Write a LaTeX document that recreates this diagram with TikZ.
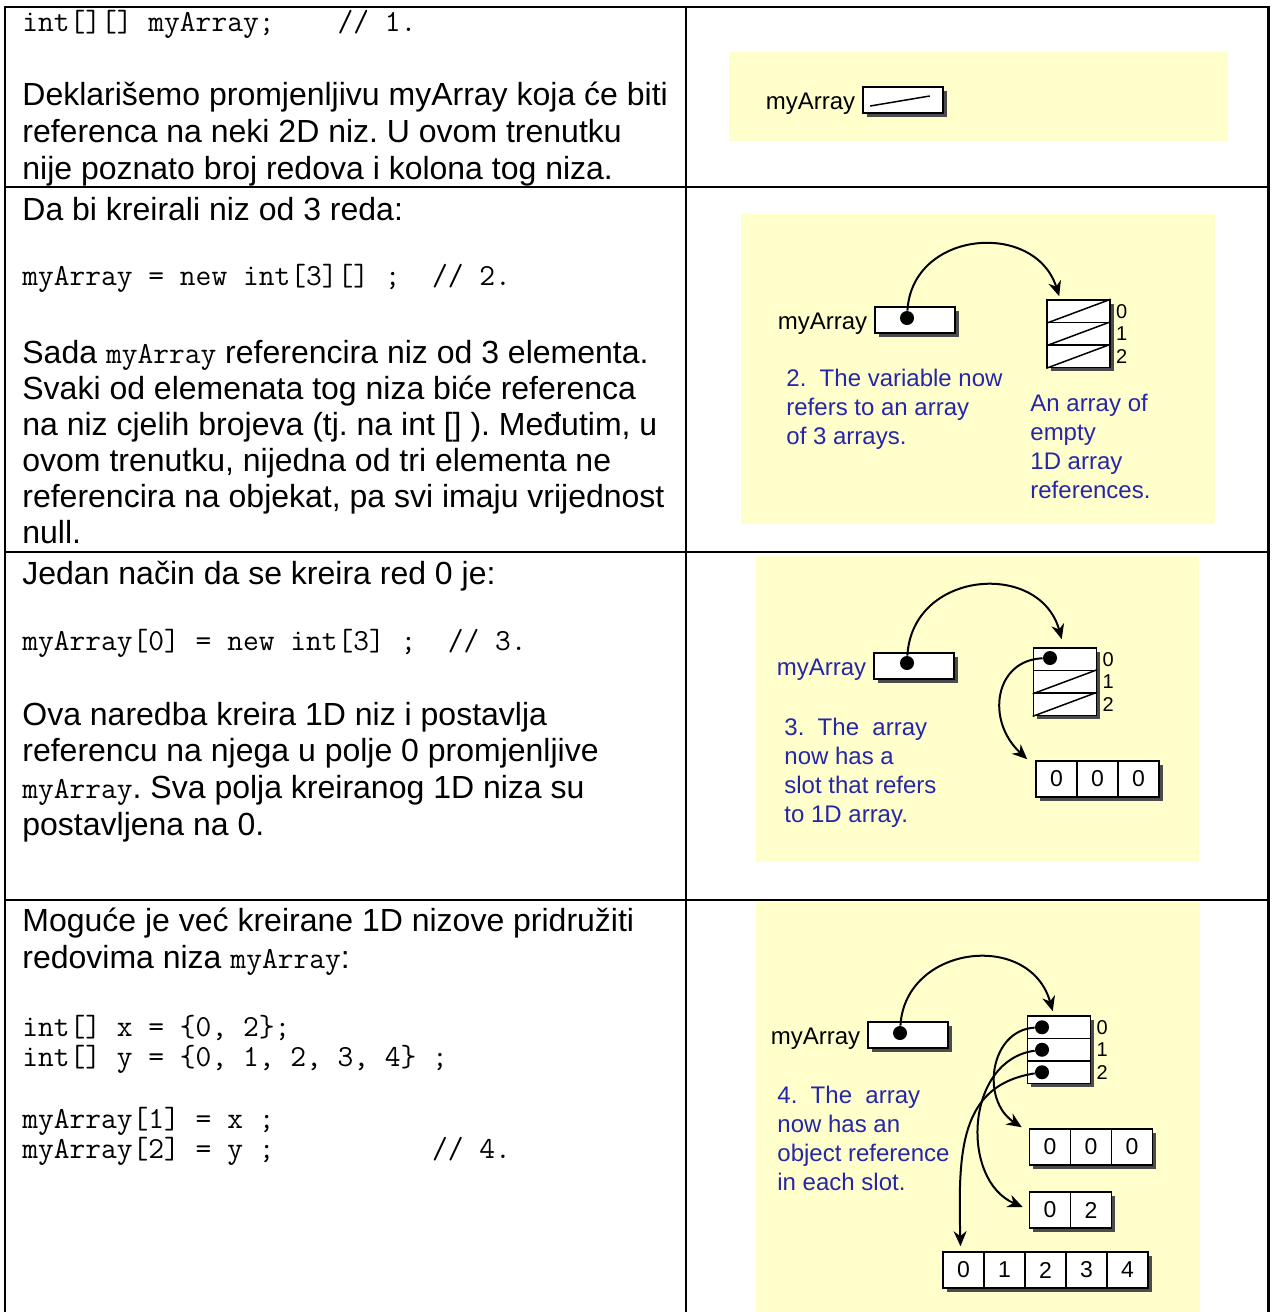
\documentclass[tikz,border=0pt]{standalone}
\usepackage{fontspec}
\setmainfont{Liberation Sans}
\usetikzlibrary{positioning,calc,shadows,arrows.meta}
\definecolor{paper}{RGB}{255,255,204}
\definecolor{inkblue}{RGB}{38,38,170}
\newcommand{\cd}[1]{{\ttfamily\fontsize{15.3}{17}\selectfont #1}}
\frenchspacing

\begin{document}
\begin{tikzpicture}[x=0.5pt,y=-0.5pt,
  rule/.style={line width=1pt},
  txt/.style={anchor=base west,inner sep=0,font=\fontsize{16}{18.5}\selectfont},
  code/.style={anchor=base west,inner sep=0,font=\ttfamily\fontsize{15.3}{17}\selectfont},
  boxshadow/.style={drop shadow={shadow xshift=1.75pt,shadow yshift=-1.75pt,opacity=1,fill=black!70}},
  var/.style={draw,fill=white,line width=.8pt,minimum width=40pt,minimum height=13pt,inner sep=0,boxshadow},
  slot/.style={draw,fill=white,line width=.8pt,minimum width=31.5pt,minimum height=11.25pt,inner sep=0,boxshadow},
  cell/.style={draw,fill=white,line width=.8pt,minimum width=20.5pt,minimum height=18pt,inner sep=0,font=\fontsize{11.5}{12}\selectfont,boxshadow},
  dot/.style={circle,fill=black,inner sep=0,minimum size=7pt},
  idx/.style={inner sep=1pt,label distance=1.5pt,font=\fontsize{10}{10}\selectfont},
  lbl/.style={yshift=-2pt,font=\fontsize{12}{14}\selectfont},
  remark/.style={anchor=north west,inner sep=0,align=left,text=inkblue,font=\fontsize{12}{14.5}\selectfont},
  null/.style={line width=.75pt},
  ptr/.style={line width=1pt,-{Stealth[length=7.5pt,width=6.5pt]}}]
  \useasboundingbox (0,0) rectangle (1271,1312);

  % table
  \draw[rule] (5,1312) -- (5,7) -- (1268,7);
  \draw[line width=1.5pt] (1268,6) -- (1268,1312);
  \draw[rule] (686,7) -- (686,1312);
  \foreach \y in {187,552,900} \draw[rule] (5,\y) -- (1268,\y);

  % row 1
  \node[code] (k1) at (22,31) {int[][] myArray;~~~~// 1.};
  \node[txt] (t11) at (22,105) {Deklarišemo promjenljivu myArray koja će biti};
  \node[txt] (t12) at (22,142) {referenca na neki 2D niz. U ovom trenutku};
  \node[txt] (t13) at (22,179) {nije poznato broj redova i kolona tog niza.};

  % row 2
  \node[txt] (t21) at (22,220) {Da bi kreirali niz od 3 reda:};
  \node[code] (k2) at (22,285) {myArray = new int[3][] ;~~// 2.};
  \node[txt] (t22) at (22,363) {Sada \cd{myArray} referencira niz od 3 elementa.};
  \node[txt] (t23) at (22,399) {Svaki od elemenata tog niza biće referenca};
  \node[txt] (t24) at (22,435) {na niz cjelih brojeva (tj. na int [] ). Međutim, u};
  \node[txt] (t25) at (22,471) {ovom trenutku, nijedna od tri elementa ne};
  \node[txt] (t26) at (22,507) {referencira na objekat, pa svi imaju vrijednost};
  \node[txt] (t27) at (22,543) {null.};

  % row 3
  \node[txt] (t31) at (22,584) {Jedan način da se kreira red 0 je:};
  \node[code] (k3) at (22,650) {myArray[0] = new int[3] ;~~// 3.};
  \node[txt] (t32) at (22,725) {Ova naredba kreira 1D niz i postavlja};
  \node[txt] (t33) at (22,761) {referencu na njega u polje 0 promjenljive};
  \node[txt] (t34) at (22,798) {\cd{myArray}. Sva polja kreiranog 1D niza su};
  \node[txt] (t35) at (22,835) {postavljena na 0.};

  % row 4
  \node[txt] (t41) at (22,931) {Moguće je već kreirane 1D nizove pridružiti};
  \node[txt] (t42) at (22,968) {redovima niza \cd{myArray}:};
  \node[code] (k41) at (22,1036) {int[] x = \{0, 2\};};
  \node[code] (k42) at (22,1066) {int[] y = \{0, 1, 2, 3, 4\} ;};
  \node[code] (k43) at (22,1128) {myArray[1] = x ;};
  \node[code] (k44) at (22,1158) {myArray[2] = y ;~~~~~~~~~~// 4.};

  % yellow panels
  \fill[paper] (729,52) rectangle (1228,141);
  \fill[paper] (741,214) rectangle (1215,524);
  \fill[paper] (756,556) rectangle (1199,862);
  \fill[paper] (756,902) rectangle (1200,1312);

  % picture 1
  \node[var,label={[lbl,name=m1]left:myArray}] (v1) at (903,100) {};
  \draw[null] ($(v1.west)+(8,6)$) -- ($(v1.east)+(-14,-4)$);

  % picture 2
  \node[var,label={[lbl,name=m2]left:myArray}] (v2) at (915,320) {};
  \node[dot] (d2) at (907,318) {};
  \foreach \i in {0,1,2}
    \node[slot,label={[idx,name=i2\i]right:\i}] (s2\i) at (1078.5,{311.25+22.5*\i}) {};
  \foreach \i in {0,1,2} \draw[null] (s2\i.south west) -- (s2\i.north east);
  \draw[ptr] (d2) .. controls (912,230) and (1035,220) .. ($(s20.north west)+(13,-3)$);
  \node[remark] (r21) at (786,369) {2.~~The variable now\\refers to an array\\of 3 arrays.};
  \node[remark] (r22) at (1030,394) {An array of\\empty\\1D array\\references.};

  % picture 3
  \node[var,label={[lbl,text=inkblue,name=m3]left:myArray}] (v3) at (914,666) {};
  \node[dot] (d3) at (907,663) {};
  \foreach \i in {0,1,2}
    \node[slot,label={[idx,name=i3\i]right:\i}] (s3\i) at (1065,{659.25+22.5*\i}) {};
  \foreach \i in {1,2} \draw[null] (s3\i.south west) -- (s3\i.north east);
  \node[dot] (e30) at (1050,658) {};
  \foreach \v [count=\i from 0] in {0,0,0}
    \node[cell] (c3\i) at ({1056.5+41*\i},779) {\v};
  \draw[ptr] (d3) .. controls (912,570) and (1040,560) .. ($(s30.north west)+(29,-8)$);
  \draw[ptr] (e30) .. controls (995,660) and (985,720) .. ($(c30.north west)+(-8,-1)$);
  \node[remark] (r3) at (784,718) {3.~~The~~array\\now has a\\slot that refers\\to 1D array.};

  % picture 4
  \node[var,label={[lbl,name=m4]left:myArray}] (v4) at (908,1035) {};
  \node[dot] (d4) at (900,1033) {};
  \foreach \i in {0,1,2} {
    \node[slot,label={[idx,name=i4\i]right:\i}] (s4\i) at (1059,{1027.25+22.5*\i}) {};
    \node[dot] (e4\i) at (1042,{1027.25+22.5*\i}) {};
  }
  \foreach \v [count=\i from 0] in {0,0,0}
    \node[cell] (c4\i) at ({1050+41*\i},1147) {\v};
  \foreach \v [count=\i from 0] in {0,2}
    \node[cell] (x\i) at ({1050+41*\i},1210) {\v};
  \foreach \v [count=\i from 0] in {0,1,2,3,4}
    \node[cell] (y\i) at ({963.5+41*\i},1270) {\v};
  \draw[ptr] (d4) .. controls (905,945) and (1030,930) .. ($(s40.north west)+(26,-4)$);
  \draw[ptr] (e40) .. controls (990,1030) and (980,1100) .. ($(c40.north west)+(-7,-1)$);
  \draw[ptr] (e41) .. controls (965,1060) and (960,1180) .. ($(x0.west)+(-6,-3)$);
  \draw[ptr] (e42) .. controls (960,1085) and (958,1150) .. ($(y0.north)+(-3,-5)$);
  \node[remark] (r4) at (777,1086) {4.~~The~~array\\now has an\\object reference\\in each slot.};
\end{tikzpicture}
\end{document}
